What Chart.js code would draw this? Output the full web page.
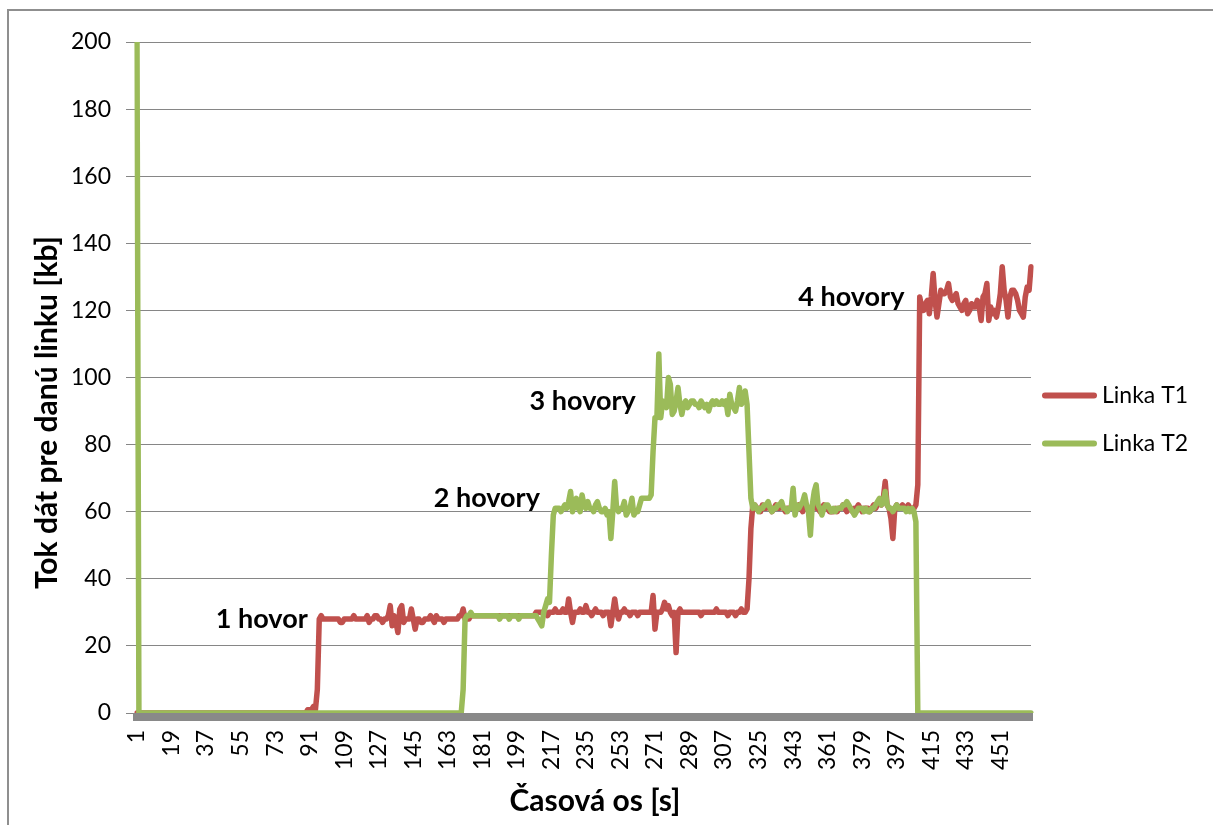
<!DOCTYPE html>
<html>
<head>
<meta charset="utf-8">
<title>Tok dát pre danú linku</title>
<script src="https://cdn.jsdelivr.net/npm/chart.js@4.4.1/dist/chart.umd.min.js"></script>
<style>
  html, body { margin: 0; padding: 0; background: #fff; overflow: hidden; }
  #ramik { position: absolute; left: 7px; top: 9px; width: 1300px; height: 900px; border: 2px solid #8f8f8f; }
  #obal { position: absolute; left: 0; top: 0; width: 1213px; height: 825px; }
</style>
</head>
<body>
<div id="ramik"></div>
<div id="obal"><canvas id="grafTok"></canvas></div>
<script>
// hodnoty odcitane z grafu, jedna hodnota za sekundu (sekunda 1 .. 467)
const linkaT1 = [
  0,0,0,0,0,0,0,0,0,0,0,0,0,0,0,0,0,0,0,0,             // 1-20
  0,0,0,0,0,0,0,0,0,0,0,0,0,0,0,0,0,0,0,0,             // 21-40
  0,0,0,0,0,0,0,0,0,0,0,0,0,0,0,0,0,0,0,0,             // 41-60
  0,0,0,0,0,0,0,0,0,0,0,0,0,0,0,0,0,0,0,0,             // 61-80
  0,0,0,0,0,0,0,0,0,1,1,1,2,1,7,28,29,28,28,28,        // 81-100
  28,28,28,28,28,28,27,27,28,28,28,28,28,29,28,28,28,28,28,28,
  29,27,28,28,29,29,28,28,27,28,28,29,32,26,29,27,24,31,32,27,
  28,28,28,31,28,25,28,28,27,27,28,28,28,29,28,27,29,28,28,28,
  27,28,28,28,28,28,28,28,29,29,31,28,28,28,29,29,29,29,29,29,
  29,29,29,29,29,29,29,29,29,29,29,29,29,29,29,29,29,29,29,29,   // 181-200
  29,29,29,29,29,29,29,29,30,30,30,30,30,30,29,30,30,30,31,30,
  30,30,31,30,30,34,30,27,30,30,30,31,30,30,32,30,30,29,30,31,
  30,30,30,29,30,30,30,26,30,34,30,28,30,30,31,30,30,29,30,30,
  30,29,30,30,30,30,30,30,30,35,25,30,30,30,31,33,31,32,30,29,
  30,18,30,31,30,30,30,30,30,30,30,30,30,30,29,30,30,30,30,30,   // 281-300
  30,30,31,30,30,30,30,30,29,30,30,30,29,30,30,31,30,30,31,40,
  55,62,62,61,61,60,62,61,61,62,61,60,61,62,61,61,62,61,60,61,
  61,61,62,61,61,62,61,60,62,61,61,60,61,62,61,61,60,61,62,61,
  61,60,60,60,61,60,61,61,62,61,60,61,61,60,61,61,62,61,60,61,
  61,61,60,61,62,61,62,63,62,64,69,62,61,58,52,61,62,61,61,62,   // 381-400
  61,61,62,61,61,61,62,68,124,121,120,122,123,119,124,131,123,118,122,126,
  125,125,126,128,124,123,124,125,122,121,120,122,123,119,120,122,121,121,123,121,
  117,124,125,128,117,121,119,120,118,121,125,133,126,123,118,124,126,126,125,123,
  120,119,118,124,127,126,133                          // 461-467
];
const linkaT2 = [
  200,0,0,0,0,0,0,0,0,0,0,0,0,0,0,0,0,0,0,0,           // 1-20
  0,0,0,0,0,0,0,0,0,0,0,0,0,0,0,0,0,0,0,0,
  0,0,0,0,0,0,0,0,0,0,0,0,0,0,0,0,0,0,0,0,
  0,0,0,0,0,0,0,0,0,0,0,0,0,0,0,0,0,0,0,0,
  0,0,0,0,0,0,0,0,0,0,0,0,0,0,0,0,0,0,0,0,             // 81-100
  0,0,0,0,0,0,0,0,0,0,0,0,0,0,0,0,0,0,0,0,
  0,0,0,0,0,0,0,0,0,0,0,0,0,0,0,0,0,0,0,0,
  0,0,0,0,0,0,0,0,0,0,0,0,0,0,0,0,0,0,0,0,
  0,0,0,0,0,0,0,0,0,0,7,28,29,29,30,29,29,29,29,29,
  29,29,29,29,29,29,29,29,29,28,29,29,29,29,28,29,29,29,29,28,   // 181-200
  29,29,29,29,29,29,29,29,29,28,27,26,30,32,34,33,47,59,61,61,
  61,60,61,62,61,63,66,60,62,64,61,60,65,62,61,63,61,61,60,62,
  63,61,60,60,61,59,60,52,60,69,61,60,61,61,63,59,60,61,64,59,
  60,60,62,64,64,64,64,64,65,78,88,88,107,88,93,92,91,100,98,89,
  90,93,97,92,89,92,93,91,92,93,93,92,92,91,93,92,91,92,90,92,   // 281-300
  93,92,93,92,92,93,92,93,89,95,92,91,90,93,97,92,93,96,92,78,
  64,61,62,61,60,61,61,62,62,63,61,60,61,61,62,62,63,61,61,60,
  61,61,67,59,62,61,62,63,65,62,60,53,62,66,68,62,61,59,61,62,
  62,61,60,61,60,61,61,61,62,62,63,62,61,60,59,60,61,61,61,60,
  61,60,60,61,61,62,63,64,62,63,66,62,61,61,60,61,62,61,61,61,   // 381-400
  61,60,61,60,61,60,57,0,0,0,0,0,0,0,0,0,0,0,0,0,
  0,0,0,0,0,0,0,0,0,0,0,0,0,0,0,0,0,0,0,0,
  0,0,0,0,0,0,0,0,0,0,0,0,0,0,0,0,0,0,0,0,
  0,0,0,0,0,0,0                                        // 461-467
];
const popisyOsX = [1, 19, 37, 55, 73, 91, 109, 127, 145, 163, 181, 199, 217,
                   235, 253, 271, 289, 307, 325, 343, 361, 379, 397, 415, 433, 451];
const nazvySerii = ['Linka T1', 'Linka T2'];
const farbySerii = ['#C0504D', '#9BBB59'];
// popisy hovorov: text, sekunda pri pravom okraji textu, uroven v kb
const hovoryText = ['1 hovor', '2 hovory', '3 hovory', '4 hovory'];
const hovorySekunda = [90, 211, 261, 401];
const hovoryUroven = [28, 64, 93, 124];

const sekundy = linkaT1.map((v, i) => i + 1);

Chart.defaults.font.family = 'Lato';
Chart.defaults.font.size = 23;
Chart.defaults.color = '#000';

// sivy pas pod osou x
const pasOsi = {
  id: 'pasOsi',
  beforeDatasetsDraw(chart) {
    const {ctx, chartArea: a} = chart;
    ctx.save();
    ctx.fillStyle = '#898989';
    ctx.fillRect(a.left - 4, a.bottom, a.right - a.left + 6, 8);
    ctx.restore();
  }
};

// popisy hovorov
const hovoryPopis = {
  id: 'hovoryPopis',
  afterDatasetsDraw(chart) {
    const {ctx, scales: {x, y}} = chart;
    ctx.save();
    ctx.font = 'bold 27px Lato';
    ctx.fillStyle = '#000';
    ctx.textAlign = 'right';
    ctx.textBaseline = 'middle';
    hovoryText.forEach((t, i) => {
      ctx.fillText(t, x.getPixelForValue(hovorySekunda[i] - 1), y.getPixelForValue(hovoryUroven[i]));
    });
    ctx.restore();
  }
};

// nazvy osi a legenda
const osiALegenda = {
  id: 'osiALegenda',
  afterDraw(chart) {
    const {ctx, chartArea: a} = chart;
    ctx.save();
    ctx.fillStyle = '#000';
    ctx.font = 'bold 30px Lato';
    ctx.textAlign = 'center';
    ctx.textBaseline = 'middle';
    ctx.fillText('Časová os [s]', (a.left + a.right) / 2 + 11, a.bottom + 88);
    ctx.translate(a.left - 90, (a.top + a.bottom) / 2 + 35);
    ctx.rotate(-Math.PI / 2);
    ctx.fillText('Tok dát pre danú linku [kb]', 0, 0);
    ctx.restore();

    const stred = chart.height / 2 + 7;
    chart.data.datasets.forEach((ds, i) => {
      const ly = stred + (i - 0.5) * 48;
      ctx.save();
      ctx.strokeStyle = ds.borderColor;
      ctx.lineWidth = 6;
      ctx.lineCap = 'round';
      ctx.beginPath();
      ctx.moveTo(a.right + 14, ly);
      ctx.lineTo(a.right + 63, ly);
      ctx.stroke();
      ctx.fillStyle = '#000';
      ctx.font = '23px Lato';
      ctx.textBaseline = 'middle';
      ctx.fillText(ds.label, a.right + 71, ly);
      ctx.restore();
    });
  }
};

const ctxTok = document.getElementById('grafTok');

let grafTok = new Chart(ctxTok, {
    type: 'line',
    data: {
        labels: sekundy,
        datasets: [{
            label: nazvySerii[0],
            data: linkaT1,
            borderColor: farbySerii[0],
            borderWidth: 5.5,
            pointRadius: 0,
            borderJoinStyle: 'round',
            borderCapStyle: 'round',
            order: 1,
            fill: false
        }, {
            label: nazvySerii[1],
            data: linkaT2,
            borderColor: farbySerii[1],
            borderWidth: 5.5,
            pointRadius: 0,
            borderJoinStyle: 'round',
            borderCapStyle: 'round',
            order: 0,
            fill: false
        }]
    },
    options: {
        responsive: true,
        maintainAspectRatio: false,
        animation: false,
        layout: { padding: { top: 42, right: 182, bottom: 0, left: 0 } },
        plugins: {
            legend: { display: false },
            tooltip: { enabled: false }
        },
        scales: {
            x: {
                type: 'category',
                offset: false,
                grid: { display: false, drawTicks: false },
                border: { display: false },
                ticks: {
                    autoSkip: false,
                    minRotation: 90,
                    maxRotation: 90,
                    padding: 17,
                    color: '#000',
                    callback: function(value) {
                        const s = this.getLabelForValue(value);
                        return popisyOsX.includes(s) ? String(s) : null;
                    }
                },
                afterFit: function(scale) { scale.height = 112; }
            },
            y: {
                min: 0,
                max: 200,
                ticks: { stepSize: 20, padding: 15, color: '#000' },
                grid: { color: '#868686', lineWidth: 1, tickLength: 11 },
                border: { display: false },
                afterFit: function(scale) { scale.width = 137; }
            }
        }
    },
    plugins: [pasOsi, hovoryPopis, osiALegenda]
});
</script>
</body>
</html>
